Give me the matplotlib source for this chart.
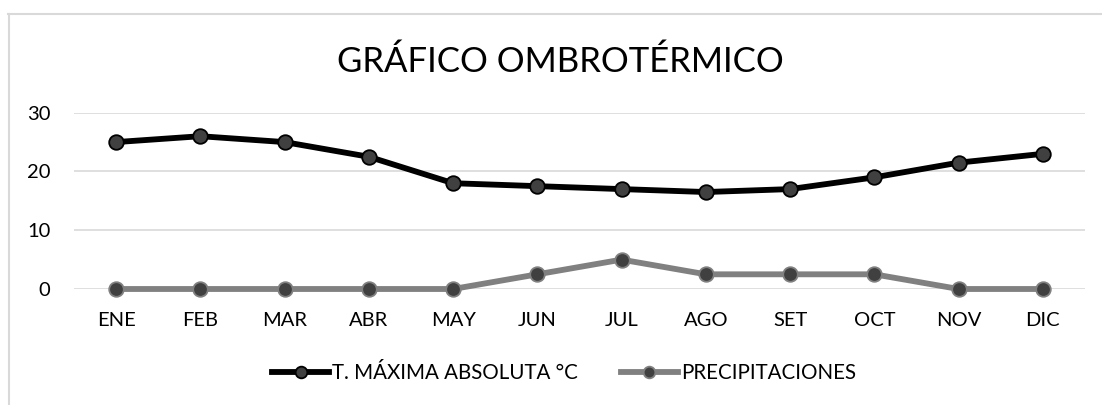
import matplotlib
matplotlib.use("Agg")
import matplotlib.pyplot as plt
from matplotlib.lines import Line2D

plt.rcParams['font.family'] = ['Lato', 'DejaVu Sans']

meses = ['ENE', 'FEB', 'MAR', 'ABR', 'MAY', 'JUN', 'JUL', 'AGO', 'SET', 'OCT', 'NOV', 'DIC']
t_maxima = [25, 26, 25, 22.5, 18, 17.5, 17, 16.5, 17, 19, 21.5, 23]
precipitaciones = [0, 0, 0, 0, 0, 2.5, 5, 2.5, 2.5, 2.5, 0, 0]
y_ticks = [0, 10, 20, 30]

W, H = 1102, 405
fig = plt.figure(figsize=(W / 100, H / 100), dpi=100)
ax = fig.add_axes([74 / W, 1 - 289 / H, (1085 - 74) / W, (289 - 112.7) / H])

x = list(range(len(meses)))
ax.plot(x, t_maxima, color='#000000', lw=4.2, marker='o', ms=10.5,
        mfc='#404040', mec='#000000', mew=1.3, clip_on=False, zorder=4,
        label='T. MÁXIMA ABSOLUTA °C')
ax.plot(x, precipitaciones, color='#808080', lw=4.2, marker='o', ms=10.5,
        mfc='#404040', mec='#808080', mew=1.3, clip_on=False, zorder=3,
        label='PRECIPITACIONES')

ax.set_xlim(-0.5, len(meses) - 0.5)
ax.set_ylim(0, 30)
ax.set_yticks(y_ticks)
ax.set_xticks(x)
ax.set_xticklabels(meses)
ax.grid(axis='y', color='#d9d9d9', lw=1.2)
ax.set_axisbelow(True)
for s in ax.spines.values():
    s.set_visible(False)
ax.tick_params(axis='both', length=0, labelsize=14.5, colors='#000000')
ax.tick_params(axis='y', pad=17)
ax.tick_params(axis='x', pad=16.5)

fig.text(560 / W, 1 - 72 / H, 'GRÁFICO OMBROTÉRMICO', ha='center', va='baseline', fontsize=25)

fig.legend(loc='center', bbox_to_anchor=(564 / W, 1 - 373 / H), ncol=2, frameon=False,
           fontsize=14.8, handlelength=2.75, handletextpad=0.15, columnspacing=2.1,
           markerscale=0.8)

# borde del área del gráfico
fig.add_artist(Line2D([8 / W, 1], [1 - 13.5 / H] * 2, color='#d9d9d9', lw=1.5))
fig.add_artist(Line2D([8.5 / W] * 2, [0, 1 - 13.5 / H], color='#d9d9d9', lw=1.5))

fig.savefig('out.png', dpi=100)
